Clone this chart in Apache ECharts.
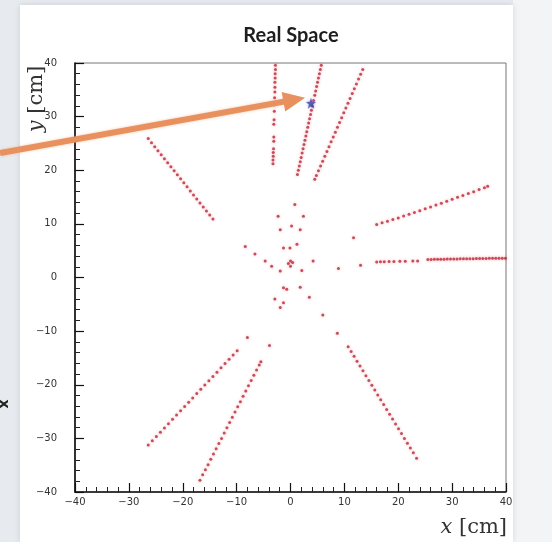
<!DOCTYPE html>
<html><head><meta charset="utf-8">
<script src="https://cdn.jsdelivr.net/npm/echarts@6/dist/echarts.min.js"></script>
<style>html,body{margin:0;padding:0;background:#e7ebef;}#c{width:552px;height:542px;}</style>
</head><body><div id="c"></div>
<script>
// axis tick labels (cm)
const xTickLabels = [-40, -30, -20, -10, 0, 10, 20, 30, 40];
const yTickLabels = [-40, -30, -20, -10, 0, 10, 20, 30, 40];

// hits, [x, y] in cm, one array per track
const trackA = [[-2.8,39.6],[-2.8,38.8],[-2.85,38.0],[-2.85,37.2],[-2.9,36.4],[-2.9,35.5],[-2.9,34.6],[-2.95,33.5],[-3.0,32.2],[-3.0,31.0],[-3.05,29.4],[-3.1,28.6],[-3.1,26.2],[-3.1,25.4],[-3.15,24.0],[-3.2,23.3],[-3.2,22.6],[-3.25,21.9],[-3.25,21.2]];
const trackB = [[5.71,39.6],[5.54,38.8],[5.37,38.0],[5.19,37.2],[5.02,36.4],[4.85,35.6],[4.67,34.8],[4.5,34.0],[4.28,33.0],[4.06,32.0],[3.89,31.2],[3.72,30.4],[3.54,29.6],[3.37,28.8],[3.2,28.0],[3.02,27.2],[2.85,26.4],[2.68,25.6],[2.5,24.8],[2.33,24.0],[2.16,23.2],[1.98,22.4],[1.81,21.6],[1.63,20.8],[1.46,20.0],[1.29,19.2]];
const trackC = [[13.41,38.8],[13.02,37.9],[12.63,37.0],[12.24,36.1],[11.85,35.2],[11.46,34.3],[11.06,33.4],[10.67,32.5],[10.28,31.6],[9.89,30.7],[9.5,29.8],[9.11,28.9],[8.72,28.0],[8.32,27.1],[7.93,26.2],[7.54,25.3],[7.15,24.4],[6.76,23.5],[6.37,22.6],[5.97,21.7],[5.58,20.8],[5.19,19.9],[4.8,19.0],[4.5,18.3]];
const trackD = [[-26.4,25.9],[-25.8,25.15],[-25.2,24.4],[-24.6,23.65],[-24.0,22.9],[-23.4,22.15],[-22.8,21.4],[-22.2,20.65],[-21.6,19.9],[-21.0,19.15],[-20.4,18.4],[-19.8,17.65],[-19.2,16.9],[-18.6,16.15],[-18.0,15.4],[-17.4,14.65],[-16.8,13.9],[-16.2,13.15],[-15.6,12.4],[-15.0,11.65],[-14.4,10.9]];
const trackE = [[16.0,9.9],[17.0,10.2],[18.0,10.5],[19.0,10.8],[20.0,11.1],[21.0,11.45],[22.0,11.8],[23.0,12.1],[24.0,12.45],[25.0,12.8],[26.0,13.15],[27.0,13.5],[28.0,13.85],[29.0,14.2],[30.0,14.6],[31.0,14.95],[32.0,15.3],[33.0,15.65],[34.0,16.0],[35.0,16.4],[36.0,16.75],[36.6,17.0]];
const trackF = [[16.0,2.9],[16.7,2.95],[17.4,2.95],[18.3,3.0],[19.2,3.0],[20.3,3.05],[21.3,3.05],[22.7,3.1],[23.6,3.1],[25.5,3.35],[26.1,3.35],[26.7,3.4],[27.3,3.4],[27.9,3.4],[28.5,3.4],[29.1,3.45],[29.7,3.45],[30.3,3.45],[30.9,3.45],[31.5,3.5],[32.1,3.5],[32.7,3.5],[33.3,3.5],[33.9,3.5],[34.5,3.55],[35.1,3.55],[35.7,3.55],[36.3,3.55],[36.9,3.6],[37.5,3.6],[38.1,3.6],[38.7,3.6],[39.3,3.6],[39.9,3.6]];
const trackG = [[10.7,-12.9],[11.25,-13.8],[11.8,-14.7],[12.35,-15.6],[12.9,-16.5],[13.45,-17.4],[14.0,-18.3],[14.55,-19.2],[15.1,-20.1],[15.65,-21.0],[16.2,-21.9],[16.75,-22.8],[17.3,-23.7],[17.85,-24.6],[18.4,-25.5],[18.95,-26.4],[19.5,-27.3],[20.05,-28.2],[20.6,-29.1],[21.15,-30.0],[21.7,-30.9],[22.25,-31.8],[22.8,-32.7],[23.4,-33.7]];
const trackH = [[-26.4,-31.25],[-25.65,-30.45],[-24.9,-29.65],[-24.15,-28.85],[-23.4,-28.05],[-22.65,-27.25],[-21.9,-26.45],[-21.15,-25.65],[-20.4,-24.85],[-19.65,-24.05],[-18.9,-23.25],[-18.15,-22.45],[-17.4,-21.65],[-16.65,-20.85],[-15.9,-20.05],[-15.15,-19.25],[-14.4,-18.45],[-13.65,-17.65],[-12.9,-16.85],[-12.15,-16.05],[-11.4,-15.25],[-10.65,-14.45],[-9.9,-13.65],[-8.0,-11.2]];
const trackI = [[-16.8,-37.8],[-16.3,-36.8],[-15.8,-35.85],[-15.3,-34.9],[-14.8,-33.9],[-14.3,-32.9],[-13.8,-31.95],[-13.3,-30.95],[-12.8,-30.0],[-12.3,-29.0],[-11.8,-28.0],[-11.3,-27.05],[-10.8,-26.05],[-10.3,-25.1],[-9.8,-24.1],[-9.3,-23.15],[-8.8,-22.15],[-8.3,-21.15],[-7.8,-20.2],[-7.3,-19.2],[-6.8,-18.25],[-6.3,-17.25],[-5.8,-16.3],[-5.5,-15.7],[-3.9,-12.7]];
const centre = [[0.8,13.6],[-2.3,11.4],[2.4,11.4],[0.2,9.6],[1.8,8.9],[-1.9,8.9],[-1.3,5.5],[-0.1,5.5],[1.2,6.2],[-8.4,5.8],[-6.6,4.4],[-4.7,3.1],[-3.5,2.1],[0,3.1],[0,2.1],[-0.4,2.6],[0.4,2.8],[-1.9,1.2],[2.1,1.3],[4.2,3.1],[8.9,1.7],[11.7,7.4],[13.0,2.3],[-1.3,-1.9],[-0.7,-2.2],[1.8,-1.8],[3.5,-3.7],[-2.9,-4.0],[-1.3,-4.7],[6.0,-7.0],[8.7,-10.4],[-1.9,-5.6]];
// highlighted hit (blue star) and arrow annotation, in cm
const starHit = [[3.8, 32.5]];
const arrowFrom = [-53.9, 23.2];
const arrowTo = [2.7, 33.5];

const hits = [].concat(trackA, trackB, trackC, trackD, trackE, trackF, trackG, trackH, trackI, centre);

const chart = echarts.init(document.getElementById('c'), null, {renderer: 'canvas'});
const axisCommon = {
  type: 'value', min: -40, max: 40, interval: 10,
  axisLine: {show: true, onZero: false, lineStyle: {color: '#111', width: 1.6}},
  axisTick: {show: true, inside: true, length: 9, lineStyle: {color: '#111', width: 1.2}},
  minorTick: {show: true, splitNumber: 5, length: 5, lineStyle: {color: '#222', width: 1}},
  splitLine: {show: false},
  axisLabel: {color: '#333', fontSize: 10, fontFamily: 'DejaVu Sans', formatter: v => String(v).replace('-', '\u2212')}
};
chart.setOption({
  animation: false,
  backgroundColor: '#e7ebef',
  graphic: [
    {id: 'rightStrip', type: 'rect', z: -10, shape: {x: 513, y: 0, width: 39, height: 542}, style: {fill: '#f2f4f6'}},
    {id: 'panel', type: 'rect', z: -9, shape: {x: 20, y: 5, width: 493, height: 537}, style: {fill: '#ffffff', shadowBlur: 6, shadowColor: 'rgba(0,0,0,0.12)'}},
    {id: 'title', type: 'text', z: 50, x: 291, y: 36, style: {text: 'Real Space', font: 'bold 20px Lato', fill: '#1e1e1e', textAlign: 'center', textVerticalAlign: 'middle'}},
    {id: 'xname', type: 'text', z: 50, x: 507, y: 528, style: {
      text: '{i|x} [cm]', rich: {i: {fontStyle: 'italic', fontFamily: 'DejaVu Serif', fontSize: 21, fill: '#333'}},
      fontFamily: 'DejaVu Serif', fontSize: 21, fill: '#333', textAlign: 'right', textVerticalAlign: 'middle'}},
    {id: 'yname', type: 'text', z: 50, x: 37, y: 99, rotation: Math.PI / 2, style: {
      text: '{i|y} [cm]', rich: {i: {fontStyle: 'italic', fontFamily: 'DejaVu Serif', fontSize: 21, fill: '#333'}},
      fontFamily: 'DejaVu Serif', fontSize: 21, fill: '#333', textAlign: 'center', textVerticalAlign: 'middle'}},
    {id: 'edge', type: 'text', z: 50, x: 4, y: 404, rotation: Math.PI / 2, style: {text: 'x', font: 'bold 14px DejaVu Sans', fill: '#222', textAlign: 'center', textVerticalAlign: 'middle'}}
  ],
  grid: {left: 75, top: 63, width: 431, height: 429, show: true, borderColor: '#777', borderWidth: 1, backgroundColor: 'transparent'},
  xAxis: Object.assign({}, axisCommon, {axisLabel: Object.assign({}, axisCommon.axisLabel, {margin: 5})}),
  yAxis: Object.assign({}, axisCommon, {axisLabel: Object.assign({}, axisCommon.axisLabel, {margin: 18})}),
  series: [
    {type: 'scatter', data: hits, symbol: 'circle', symbolSize: 3,
      itemStyle: {color: '#b8283a', shadowBlur: 3, shadowColor: 'rgba(235,90,100,0.6)'}},
    {type: 'scatter', data: starHit, symbol: 'path://M0,-10 L2.4,-3.3 L9.5,-3.1 L3.9,1.3 L5.9,8.1 L0,4.1 L-5.9,8.1 L-3.9,1.3 L-9.5,-3.1 L-2.4,-3.3 Z',
      symbolSize: [10, 11], itemStyle: {color: '#3b44a8', shadowBlur: 3, shadowColor: 'rgba(90,110,220,0.6)'}, z: 5}
  ]
});

// arrow annotation, positioned through the grid's own scales
const p0 = chart.convertToPixel({gridIndex: 0}, arrowFrom);
const p1 = chart.convertToPixel({gridIndex: 0}, arrowTo);
const dx = p1[0] - p0[0], dy = p1[1] - p0[1];
const len = Math.sqrt(dx * dx + dy * dy);
const ux = dx / len, uy = dy / len, nx = -uy, ny = ux;
const headL = 22, headW = 10;
const bx = p1[0] - ux * headL, by = p1[1] - uy * headL;
chart.setOption({graphic: [
  {id: 'arrowLine', type: 'line', z: 100, shape: {x1: p0[0], y1: p0[1], x2: bx + ux * 2, y2: by + uy * 2}, style: {stroke: '#e8915e', lineWidth: 6, shadowBlur: 3, shadowColor: 'rgba(232,145,94,0.5)'}},
  {id: 'arrowHead', type: 'polygon', z: 100, shape: {points: [[p1[0], p1[1]], [bx + nx * headW, by + ny * headW], [bx - nx * headW, by - ny * headW]]}, style: {fill: '#e8915e'}}
]});
</script></body></html>
